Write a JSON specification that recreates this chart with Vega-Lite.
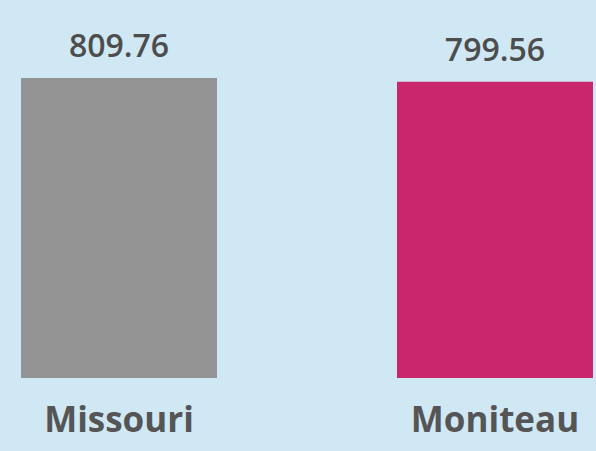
{
  "$schema": "https://vega.github.io/schema/vega-lite/v6.json",
  "autosize": "none",
  "width": 572,
  "height": 300,
  "padding": {"left": 21, "top": 78, "right": 3, "bottom": 73},
  "background": "#d0e7f4",
  "config": {"view": {"stroke": null}, "font": "Open Sans"},
  "data": {"values": [
    {"county": "Missouri", "value": 809.76},
    {"county": "Moniteau", "value": 799.56}
  ]},
  "encoding": {
    "x": {"field": "county", "type": "nominal", "sort": null,
      "scale": {"paddingInner": 0.4787, "paddingOuter": 0},
      "axis": {"title": null, "ticks": false, "domain": false, "labelAngle": 0,
        "labelFontSize": 35, "labelFontWeight": "bold", "labelColor": "#555555",
        "labelPadding": 25, "labelFont": "Open Sans"}},
    "y": {"field": "value", "type": "quantitative",
      "scale": {"domain": [0, 809.76], "nice": false, "zero": true},
      "axis": null}
  },
  "layer": [
    {"mark": {"type": "bar"},
      "encoding": {"color": {"field": "county", "type": "nominal", "legend": null,
        "scale": {"domain": ["Missouri", "Moniteau"], "range": ["#949494", "#c9266b"]}}}},
    {"mark": {"type": "text", "baseline": "alphabetic", "dy": -21, "fontSize": 32, "fontWeight": 600, "color": "#4d4d4d", "font": "Open Sans"},
      "encoding": {"text": {"field": "value", "type": "quantitative", "format": ".2f"}}}
  ]
}
